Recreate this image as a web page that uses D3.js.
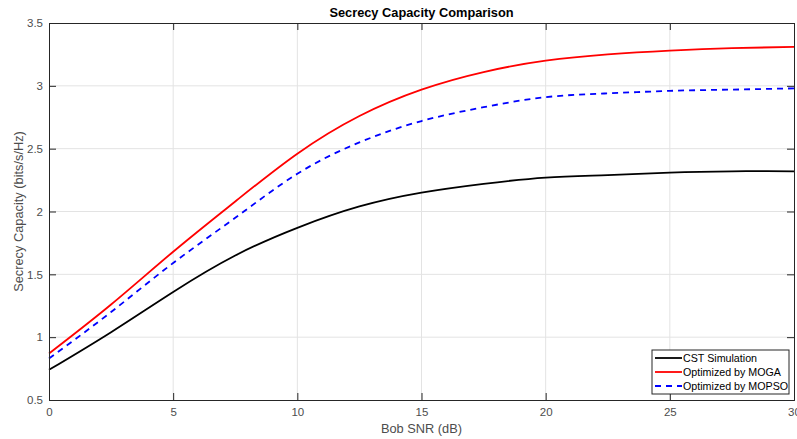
<!DOCTYPE html>
<html>
<head>
<meta charset="utf-8">
<script src="https://cdn.jsdelivr.net/npm/d3@7"></script>
<style>
  html, body { margin: 0; padding: 0; background: #fff; }
  svg { display: block; font-family: "Liberation Sans", Arial, sans-serif; }
</style>
</head>
<body>
<svg id="chart" width="797" height="439"></svg>
<script>
// Bob SNR sample points (dB)
const snr = [0, 2.5, 5, 7.5, 10, 12.5, 15, 17.5, 20, 22.5, 25, 27.5, 30];
// Secrecy capacity (bits/s/Hz) per method
const cstSimulation = [0.74, 1.04, 1.36, 1.65, 1.87, 2.04, 2.15, 2.22, 2.27, 2.29, 2.31, 2.32, 2.32];
const moga          = [0.87, 1.26, 1.68, 2.08, 2.46, 2.76, 2.97, 3.11, 3.20, 3.25, 3.28, 3.30, 3.31];
const mopso         = [0.83, 1.20, 1.59, 1.95, 2.30, 2.55, 2.72, 2.83, 2.91, 2.94, 2.96, 2.97, 2.98];
const seriesNames   = ["CST Simulation", "Optimized by MOGA", "Optimized by MOPSO"];
const xTicks = [0, 5, 10, 15, 20, 25, 30];
const yTicks = [0.5, 1, 1.5, 2, 2.5, 3, 3.5];

const series = [
  { name: seriesNames[0], values: cstSimulation, color: "#000000", dash: null },
  { name: seriesNames[1], values: moga,          color: "#ff0000", dash: null },
  { name: seriesNames[2], values: mopso,         color: "#0000ff", dash: "6,5" }
];

const svg = d3.select("#chart");
const m = { left: 49, right: 794, top: 23, bottom: 400 };

const x = d3.scaleLinear().domain([0, 30]).range([m.left, m.right]);
const y = d3.scaleLinear().domain([0.5, 3.5]).range([m.bottom, m.top]);

const axisColor = "#262626";
const labelColor = "#4d4d4d";

// grid
const grid = svg.append("g");
grid.selectAll(".gx").data(xTicks.slice(1, -1)).join("line")
  .attr("x1", d => x(d)).attr("x2", d => x(d))
  .attr("y1", m.top).attr("y2", m.bottom)
  .attr("stroke", "#e3e3e3").attr("stroke-width", 1);
grid.selectAll(".gy").data(yTicks.slice(1, -1)).join("line")
  .attr("y1", d => y(d)).attr("y2", d => y(d))
  .attr("x1", m.left).attr("x2", m.right)
  .attr("stroke", "#e3e3e3").attr("stroke-width", 1);

// curves
const line = d3.line()
  .x((d, i) => x(snr[i]))
  .y(d => y(d))
  .curve(d3.curveNatural);

const plot = svg.append("g");
series.forEach(s => {
  plot.append("path")
    .attr("d", line(s.values))
    .attr("fill", "none")
    .attr("stroke", s.color)
    .attr("stroke-width", 1.8)
    .attr("stroke-dasharray", s.dash);
});

// axes (ticks inward, box on all four sides)
const tickLen = 7;
const axB = svg.append("g").attr("transform", `translate(0,${m.bottom})`)
  .call(d3.axisBottom(x).tickValues(xTicks).tickSize(-tickLen).tickPadding(8).tickFormat(d3.format("d")));
const axT = svg.append("g").attr("transform", `translate(0,${m.top})`)
  .call(d3.axisTop(x).tickValues(xTicks).tickSize(-tickLen).tickFormat(""));
const axL = svg.append("g").attr("transform", `translate(${m.left},0)`)
  .call(d3.axisLeft(y).tickValues(yTicks).tickSize(-tickLen).tickPadding(6).tickFormat(d => String(d)));
const axR = svg.append("g").attr("transform", `translate(${m.right},0)`)
  .call(d3.axisRight(y).tickValues(yTicks).tickSize(-tickLen).tickFormat(""));

[axB, axT, axL, axR].forEach(a => {
  a.select(".domain").attr("stroke", axisColor).attr("stroke-width", 1);
  a.selectAll(".tick line").attr("stroke", axisColor);
  a.selectAll(".tick text").attr("fill", labelColor).attr("font-size", 11.5)
    .attr("font-family", "Liberation Sans, Arial, sans-serif");
});

// titles
svg.append("text")
  .attr("x", (m.left + m.right) / 2).attr("y", 16.5)
  .attr("text-anchor", "middle")
  .attr("font-size", 12.8).attr("font-weight", "bold").attr("fill", "#000")
  .text("Secrecy Capacity Comparison");

svg.append("text")
  .attr("x", (m.left + m.right) / 2).attr("y", 433)
  .attr("text-anchor", "middle")
  .attr("font-size", 12.8).attr("fill", labelColor)
  .text("Bob SNR (dB)");

svg.append("text")
  .attr("transform", `translate(23,${(m.top + m.bottom) / 2}) rotate(-90)`)
  .attr("text-anchor", "middle")
  .attr("font-size", 12.8).attr("fill", labelColor)
  .text("Secrecy Capacity (bits/s/Hz)");

// legend
const lg = svg.append("g").attr("transform", "translate(652,350)");
lg.append("rect").attr("width", 137).attr("height", 44)
  .attr("fill", "#fff").attr("stroke", axisColor).attr("stroke-width", 1);
series.forEach((s, i) => {
  const yy = 8 + i * 14;
  lg.append("line")
    .attr("x1", 3).attr("x2", 30).attr("y1", yy).attr("y2", yy)
    .attr("stroke", s.color).attr("stroke-width", 1.8)
    .attr("stroke-dasharray", s.dash);
  lg.append("text")
    .attr("x", 31).attr("y", yy + 3.8)
    .attr("font-size", 10.7).attr("fill", "#000")
    .text(s.name);
});
</script>
</body>
</html>
